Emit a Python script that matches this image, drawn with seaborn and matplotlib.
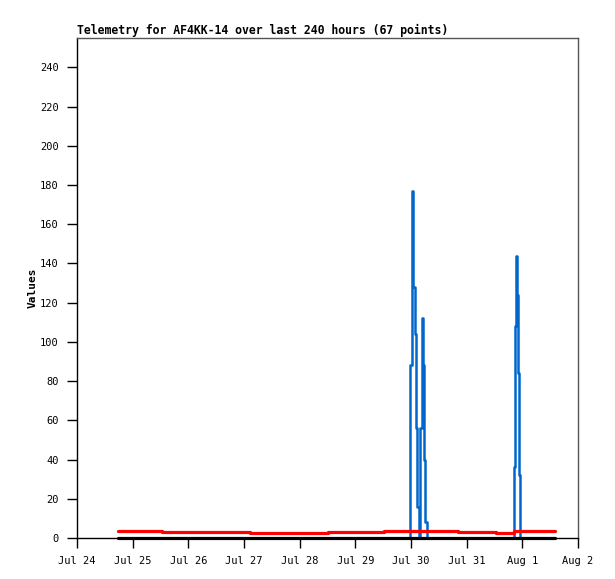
import pandas as pd
import matplotlib
matplotlib.use("Agg")
import matplotlib.pyplot as plt
import matplotlib.dates as mdates
import seaborn as sns

# hours since Jul 24 00:00 and values
start = pd.Timestamp("2024-07-24")

blue_hours = [17.7, 143.6, 144.4, 145.0, 145.8, 146.2, 146.7, 147.3, 147.9, 148.6,
              149.2, 149.7, 150.1, 150.8, 188.5, 188.9, 189.3, 189.9, 190.2, 190.6,
              191.1, 206.0]
blue_vals = [0, 88, 177, 128, 104, 56, 16, 0, 56, 112,
             88, 40, 8, 0, 36, 108, 144, 124, 84, 32,
             0, 0]

red_hours = [17.7, 36.7, 74.7, 108.4, 132.2, 164.1, 180.6, 188.3, 206.0]
red_vals = [3.7, 3.0, 2.5, 3.1, 3.7, 3.1, 2.5, 3.7, 3.7]

black_hours = [17.7, 206.0]
black_vals = [0, 0]

yticks = list(range(0, 241, 20))

sns.set_style("white")
plt.rcParams['font.family'] = ['DejaVu Sans Mono']
plt.rcParams['text.color'] = 'black'
plt.rcParams['axes.labelcolor'] = 'black'

fig = plt.figure(figsize=(6.15, 5.79), dpi=100)
ax = fig.add_axes([77/615, 1-538/579, 501/615, 500/579])

def df_of(h, v):
    return pd.DataFrame({"time": start + pd.to_timedelta(h, unit="h"), "value": v})

sns.lineplot(data=df_of(blue_hours, blue_vals), x="time", y="value", ax=ax,
             color="#0066cc", linewidth=1.8, drawstyle="steps-post")
sns.lineplot(data=df_of(red_hours, red_vals), x="time", y="value", ax=ax,
             color="#ff0000", linewidth=2.3, drawstyle="steps-post")
sns.lineplot(data=df_of(black_hours, black_vals), x="time", y="value", ax=ax,
             color="black", linewidth=2.3, drawstyle="steps-post", clip_on=False)

ax.set_xlim(start, start + pd.Timedelta(days=9))
ax.set_ylim(0, 255)
ax.set_yticks(yticks)
ax.xaxis.set_major_locator(mdates.DayLocator())
ax.xaxis.set_major_formatter(mdates.DateFormatter("%b %-d"))

ax.tick_params(direction="out", length=7, width=1, labelsize=7.5, pad=6,
               bottom=True, left=True, top=False, right=False,
               colors="black", labelcolor="black")
for s in ["left", "bottom"]:
    ax.spines[s].set_color("black")
for s in ["top", "right"]:
    ax.spines[s].set_color("#555555")
for s in ax.spines.values():
    s.set_linewidth(1)
    s.set_visible(True)

ax.set_xlabel("")
ax.set_ylabel("Values", fontsize=8, fontweight="bold", labelpad=2, color="black")
ax.set_title("Telemetry for AF4KK-14 over last 240 hours (67 points)",
             loc="left", fontsize=8.3, fontweight="bold", pad=3, color="black")

fig.savefig("out.png", dpi=100)
